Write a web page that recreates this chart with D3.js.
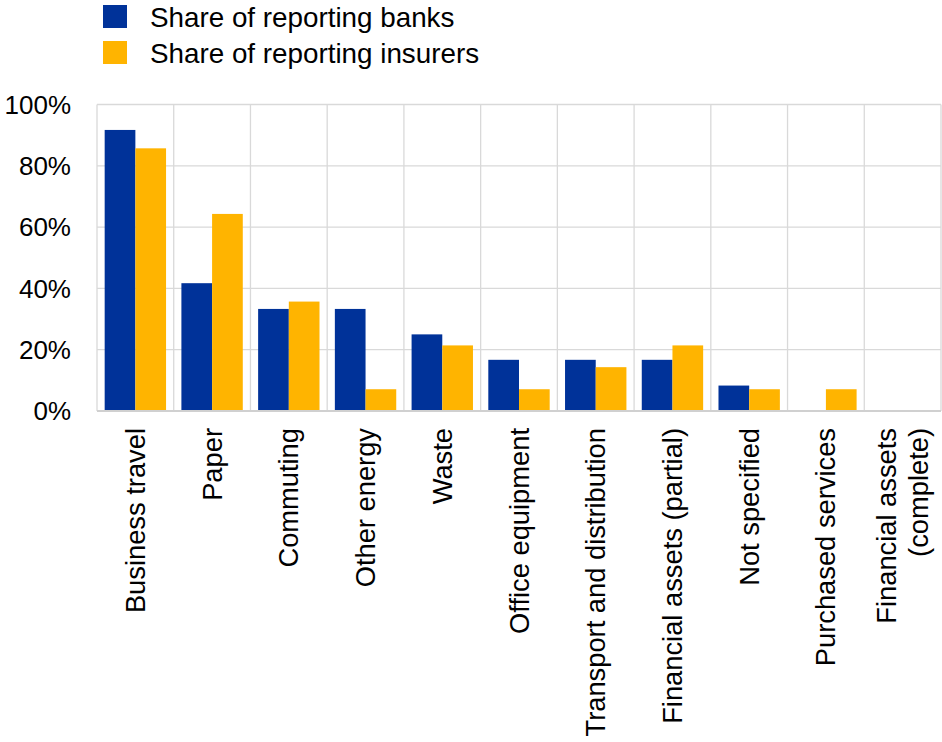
<!DOCTYPE html>
<html>
<head>
<meta charset="utf-8">
<script src="https://cdn.jsdelivr.net/npm/d3@7/dist/d3.min.js"></script>
<style>
  body { margin: 0; background: #fff; }
  text { font-family: Arial, "Liberation Sans", sans-serif; fill: #000; }
</style>
</head>
<body>
<svg id="chart" width="942" height="742"></svg>
<script>
// categories (multi-line labels split with \n)
const categories = [
  "Business travel", "Paper", "Commuting", "Other energy", "Waste",
  "Office equipment", "Transport and distribution", "Financial assets (partial)",
  "Not specified", "Purchased services", "Financial assets\n(complete)"
];
const seriesNames = ["Share of reporting banks", "Share of reporting insurers"];
const banks    = [91.7, 41.7, 33.3, 33.3, 25.0, 16.7, 16.7, 16.7, 8.3, 0, 0];
const insurers = [85.7, 64.3, 35.7, 7.1, 21.4, 7.1, 14.3, 21.4, 7.1, 7.1, 0];
const yTicks = [0, 20, 40, 60, 80, 100];
const colors = ["#003299", "#ffb400"];

const svg = d3.select("#chart");
const plotL = 97, plotR = 941, plotT = 104.5, plotB = 411;

const x = d3.scaleBand().domain(categories).range([plotL, plotR]).padding(0);
const xs = d3.scaleBand().domain(seriesNames).range([0, x.bandwidth()])
  .paddingInner(0).paddingOuter(0.25);
const y = d3.scaleLinear().domain([0, 100]).range([plotB, plotT]);

// horizontal gridlines
svg.append("g").selectAll("line").data(yTicks.slice(1)).enter().append("line")
  .attr("x1", plotL).attr("x2", plotR)
  .attr("y1", d => y(d)).attr("y2", d => y(d))
  .attr("stroke", "#d9d9d9").attr("stroke-width", 1.3);

// vertical gridlines at category boundaries
const bounds = categories.map(c => x(c)).concat([plotR]);
svg.append("g").selectAll("line").data(bounds).enter().append("line")
  .attr("x1", d => d).attr("x2", d => d)
  .attr("y1", plotT).attr("y2", plotB)
  .attr("stroke", "#d9d9d9").attr("stroke-width", 1.3);

// bars
const rows = categories.map((c, i) => ({cat: c, vals: [banks[i], insurers[i]]}));
svg.append("g").selectAll("g").data(rows).enter().append("g")
  .attr("transform", d => `translate(${x(d.cat)},0)`)
  .selectAll("rect")
  .data(d => d.vals.map((v, j) => ({name: seriesNames[j], v: v, j: j})))
  .enter().append("rect")
  .attr("x", d => xs(d.name))
  .attr("width", xs.bandwidth())
  .attr("y", d => y(d.v))
  .attr("height", d => y(0) - y(d.v))
  .attr("fill", d => colors[d.j]);

// baseline
svg.append("line")
  .attr("x1", plotL).attr("x2", plotR)
  .attr("y1", plotB).attr("y2", plotB)
  .attr("stroke", "#d0d0d0").attr("stroke-width", 2);

// y axis labels
svg.append("g").selectAll("text").data(yTicks).enter().append("text")
  .attr("x", 71).attr("y", d => y(d))
  .attr("dy", "0.35em")
  .attr("text-anchor", "end")
  .style("font-size", "26px")
  .text(d => d + "%");

// x category labels (rotated)
const xl = svg.append("g").selectAll("text").data(categories).enter().append("text")
  .attr("transform", d => `translate(${x(d) + x.bandwidth() / 2},428) rotate(-90)`)
  .attr("text-anchor", "end")
  .style("font-size", "27.3px");
xl.each(function(d) {
  const lines = d.split("\n");
  const n = lines.length;
  d3.select(this).selectAll("tspan").data(lines).enter().append("tspan")
    .attr("x", 0)
    .attr("dy", (l, i) => i === 0 ? (0.35 - (n - 1) * 0.575) + "em" : "1.15em")
    .text(l => l);
});

// legend
const lg = svg.append("g").selectAll("g").data(seriesNames).enter().append("g")
  .attr("transform", (d, i) => `translate(103,${5 + i * 36})`);
lg.append("rect").attr("width", 24).attr("height", 23)
  .attr("fill", (d, i) => colors[i]);
lg.append("text").attr("x", 47).attr("y", 22)
  .style("font-size", "27.8px")
  .text(d => d);
</script>
</body>
</html>
